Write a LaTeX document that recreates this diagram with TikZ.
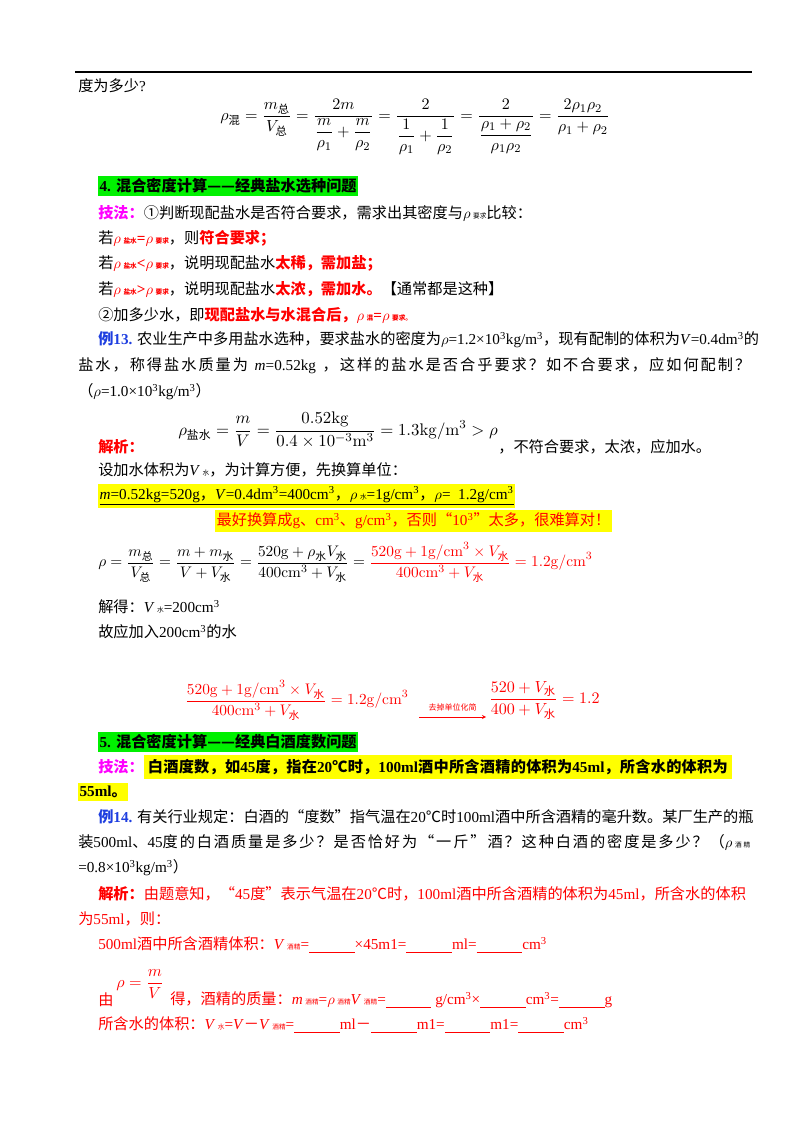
\documentclass[tikz,border=0pt]{standalone}
\usepackage{amsmath}
\usepackage[no-math]{fontspec}
\setmainfont{Liberation Serif}
\newfontfamily\cjk{Noto Sans CJK SC}
\XeTeXinterchartokenstate=1
\newXeTeXintercharclass\CJKcls
\newcount\cc
\def\setcls#1#2{\cc=#1 \loop\XeTeXcharclass\cc=\CJKcls\ifnum\cc<#2 \advance\cc by 1 \repeat}
\setcls{"3000}{"303F}\setcls{"4E00}{"9FFF}\setcls{"FF00}{"FFEF}\setcls{"2460}{"2473}
\setcls{"2014}{"2014}\setcls{"2018}{"201D}\setcls{"2103}{"2103}
\XeTeXinterchartoks 0 \CJKcls = {\cjk}
\XeTeXinterchartoks 4095 \CJKcls = {\cjk}
\XeTeXinterchartoks \CJKcls 0 = {\rmfamily}
\XeTeXinterchartoks \CJKcls 4095 = {\rmfamily}
\XeTeXinterchartoks \CJKcls \CJKcls = {\hskip0pt plus 1pt\relax}
\newcommand{\zh}[1]{\text{\cjk #1}}
\definecolor{rd}{HTML}{FF0000}
\definecolor{mg}{HTML}{FF00FF}
\definecolor{bl}{HTML}{1F3FE0}
\definecolor{gr}{HTML}{00F000}
\definecolor{yl}{HTML}{FFFF00}
\begin{document}
\begin{tikzpicture}[x=0.75pt,y=-0.75pt,
  txt/.style={anchor=west,inner sep=0pt,font=\fontsize{11.4}{13}\selectfont},
  hl/.style={txt,fill=#1,inner ysep=2pt,inner xsep=1pt},
  eq/.style={inner sep=0pt,font=\fontsize{11}{13}\selectfont}]
\useasboundingbox (0,0) rectangle (800,1132);
\draw[line width=1pt] (75,72) -- (752,72);
\node[txt] (l1) at (78,86) {度为多少?};
\node[eq,scale=1.1] (f1) at (415,127) {$\rho_{\zh{混}}=\dfrac{m_{\zh{总}}}{V_{\zh{总}}}=\dfrac{2m}{\dfrac{m}{\rho_1}+\dfrac{m}{\rho_2}}=\dfrac{2}{\dfrac{1}{\rho_1}+\dfrac{1}{\rho_2}}=\dfrac{2}{\dfrac{\rho_1+\rho_2}{\rho_1\rho_2}}=\dfrac{2\rho_1\rho_2}{\rho_1+\rho_2}$};
\node[hl=gr] (h4) at (98,186) {\bfseries 4. 混合密度计算——经典盐水选种问题};
\node[txt] (t1) at (98,213) {{\color{mg}\bfseries 技法：}①判断现配盐水是否符合要求，需求出其密度与$\rho$\,{\tiny 要求}比较：};
\node[txt] (t2) at (98,238) {若{\color{rd}\bfseries $\rho$\,{\tiny 盐水}=$\rho$\,{\tiny 要求}}，则{\color{rd}\bfseries 符合要求；}};
\node[txt] (t3) at (98,263) {若{\color{rd}\bfseries $\rho$\,{\tiny 盐水}<$\rho$\,{\tiny 要求}}，说明现配盐水{\color{rd}\bfseries 太稀，需加盐；}};
\node[txt] (t4) at (98,289) {若{\color{rd}\bfseries $\rho$\,{\tiny 盐水}>$\rho$\,{\tiny 要求}}，说明现配盐水{\color{rd}\bfseries 太浓，需加水。}【通常都是这种】};
\node[txt] (t5) at (98,315) {②加多少水，即{\color{rd}\bfseries 现配盐水与水混合后，$\rho$\,{\tiny 混}=$\rho$\,{\tiny 要求。}}};
\node[txt] (t6) at (98,340) {\makebox[490pt][s]{{\color{bl}\bfseries 例13.} 农业生产中多用盐水选种，要求盐水的密度为$\rho$=1.2×10\textsuperscript{3}kg/m\textsuperscript{3}，现有配制的体积为\textit{V}=0.4dm\textsuperscript{3}的}};
\node[txt] (t7) at (78,366) {\makebox[504pt][s]{盐水，称得盐水质量为\ \textit{m}=0.52kg\ ，这样的盐水是否合乎要求？如不合要求，应如何配制？}};
\node[txt] (t8) at (78,392) {（$\rho$=1.0×10\textsuperscript{3}kg/m\textsuperscript{3}）};
\node[eq,anchor=west,scale=1.15] (f2) at (178,430) {$\rho_{\zh{盐水}}=\dfrac{m}{V}=\dfrac{0.52\mathrm{kg}}{0.4\times10^{-3}\mathrm{m}^3}=1.3\mathrm{kg/m^3}>\rho$};
\node[txt] (t9) at (98,447) {\color{rd}\bfseries 解析：};
\node[txt] (t10) at (f2.east|-t9) {，不符合要求，太浓，应加水。};
\node[txt] (t11) at (98,470) {设加水体积为\textit{V}\,{\tiny 水}，为计算方便，先换算单位：};
\node[hl=yl] (t12) at (98,496) {\underline{\textit{m}=0.52kg=520g，\textit{V}=0.4dm\textsuperscript{3}=400cm\textsuperscript{3}，$\rho$\,{\tiny 水}=1g/cm\textsuperscript{3}，$\rho$=\ \ 1.2g/cm\textsuperscript{3}}};
\node[hl=yl] (t13) at (215,521) {\color{rd}最好换算成g、cm\textsuperscript{3}、g/cm\textsuperscript{3}，否则“10\textsuperscript{3}”太多，很难算对！};
\node[eq,anchor=west,scale=1.05] (f3) at (98,562) {$\rho=\dfrac{m_{\zh{总}}}{V_{\zh{总}}}=\dfrac{m+m_{\zh{水}}}{V+V_{\zh{水}}}=\dfrac{520\mathrm{g}+\rho_{\zh{水}}V_{\zh{水}}}{400\mathrm{cm}^3+V_{\zh{水}}}=\color{rd}\dfrac{520\mathrm{g}+1\mathrm{g/cm}^3\times V_{\zh{水}}}{400\mathrm{cm}^3+V_{\zh{水}}}=1.2\mathrm{g/cm}^3$};
\node[txt] (t14) at (98,607) {解得：\textit{V}\,{\tiny 水}=200cm\textsuperscript{3}};
\node[txt] (t15) at (98,632) {故应加入200cm\textsuperscript{3}的水};
\node[eq,anchor=west,text=rd,scale=1.05] (f4) at (185,700) {$\dfrac{520\mathrm{g}+1\mathrm{g/cm}^3\times V_{\zh{水}}}{400\mathrm{cm}^3+V_{\zh{水}}}=1.2\mathrm{g/cm}^3$};
\node[eq,anchor=west,text=rd,scale=1.1] (f5) at ([xshift=60pt]f4.east) {$\dfrac{520+V_{\zh{水}}}{400+V_{\zh{水}}}=1.2$};
\coordinate (a1) at ([xshift=8pt]f4.east|-0,717);
\draw[rd,->,>=stealth] (a1) -- ([xshift=-2pt]f5.west|-a1) node[midway,above=1pt,font=\fontsize{6}{7}\selectfont,text=rd]{去掉单位化简};
\node[hl=gr] (h5) at (98,742) {\bfseries 5. 混合密度计算——经典白酒度数问题};
\node[txt] (t16) at (98,767) {{\color{mg}\bfseries 技法：}\colorbox{yl}{\makebox[435pt][s]{\bfseries 白酒度数，如45度，指在20℃时，100ml酒中所含酒精的体积为45ml，所含水的体积为}}};
\node[hl=yl] (t17) at (78,792) {\bfseries 55ml。};
\node[txt] (t18) at (98,817) {\makebox[490pt][s]{{\color{bl}\bfseries 例14.} 有关行业规定：白酒的“度数”指气温在20℃时100ml酒中所含酒精的毫升数。某厂生产的瓶}};
\node[txt] (t19) at (78,842) {\makebox[504pt][s]{装500ml、45度的白酒质量是多少？是否恰好为“一斤”酒？这种白酒的密度是多少？（$\rho$\,{\tiny 酒精}}};
\node[txt] (t20) at (78,868) {=0.8×10\textsuperscript{3}kg/m\textsuperscript{3}）};
\node[txt,text=rd] (t21) at (98,894) {{\bfseries 解析：}由题意知，“45度”表示气温在20℃时，100ml酒中所含酒精的体积为45ml，所含水的体积};
\node[txt,text=rd] (t22) at (78,919) {为55ml，则：};
\node[txt,text=rd] (t23) at (98,945) {500ml酒中所含酒精体积：\textit{V}\,{\tiny 酒精}=\underline{\hspace{3em}}×45m1=\underline{\hspace{3em}}ml=\underline{\hspace{3em}}cm\textsuperscript{3}};
\node[eq,anchor=west,text=rd,scale=1.1] (f6) at (116,984) {$\rho=\dfrac{m}{V}$};
\node[txt,text=rd] (t24) at (98,1000) {由};
\node[txt,text=rd] (t25) at (170,1000) {得，酒精的质量：\textit{m}\,{\tiny 酒精}=$\rho$\,{\tiny 酒精}\textit{V}\,{\tiny 酒精}=\underline{\hspace{3em}}\ g/cm\textsuperscript{3}×\underline{\hspace{3em}}cm\textsuperscript{3}=\underline{\hspace{3em}}g};
\node[txt,text=rd] (t26) at (98,1025) {所含水的体积：\textit{V}\,{\tiny 水}=\textit{V}－\textit{V}\,{\tiny 酒精}=\underline{\hspace{3em}}ml－\underline{\hspace{3em}}m1=\underline{\hspace{3em}}m1=\underline{\hspace{3em}}cm\textsuperscript{3}};
\end{tikzpicture}
\end{document}
